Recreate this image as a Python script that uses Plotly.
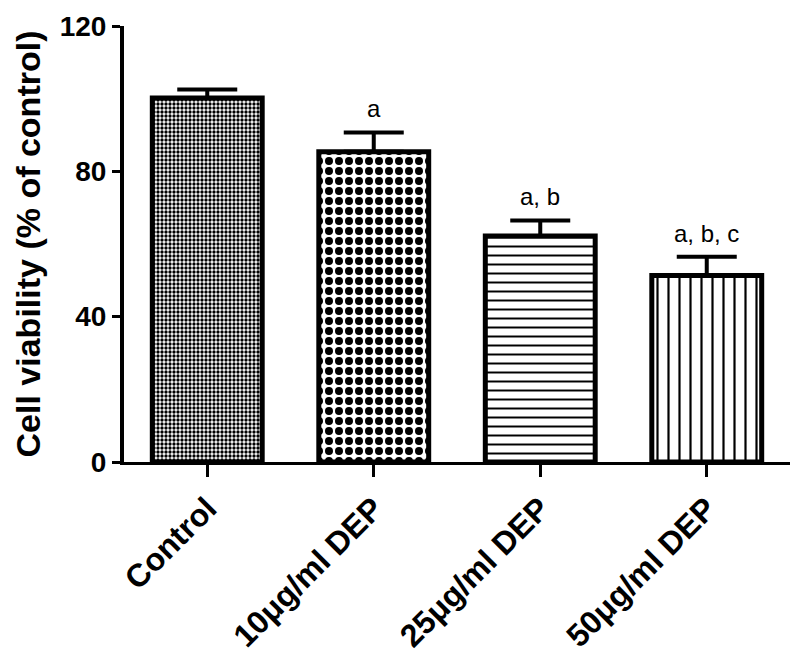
import plotly.graph_objects as go

categories = ["Control", "10μg/ml DEP", "25μg/ml DEP", "50μg/ml DEP"]
means = [100.2, 85.4, 62.2, 51.3]
sems = [2.3, 5.3, 4.3, 5.2]
labels = ["", "a", "a, b", "a, b, c"]
y_ticks = [0, 40, 80, 120]

FONT = "Liberation Sans, Arial, sans-serif"

fig = go.Figure()
fig.add_trace(go.Bar(
    x=categories,
    y=means,
    width=0.66,
    marker=dict(
        color="white",
        line=dict(color="black", width=5),
        pattern=dict(
            shape=[".", ".", "-", "|"],
            size=[4, 10, 9, 11],
            solidity=[0.55, 0.5, 0.22, 0.2],
            fgcolor="black",
            bgcolor="white",
            fgopacity=1,
            fillmode="overlay",
        ),
    ),
    error_y=dict(
        type="data", symmetric=False, array=sems,
        arrayminus=[0] * len(sems),
        color="black", thickness=4, width=30,
    ),
    showlegend=False,
))

for c, m, s, t in zip(categories, means, sems, labels):
    if t:
        fig.add_annotation(
            x=c, y=m + s, text=t, showarrow=False,
            yanchor="bottom", yshift=8,
            font=dict(family=FONT, size=24, color="black"),
        )

fig.update_layout(
    width=800, height=660,
    margin=dict(l=116, r=18, t=18, b=206),
    plot_bgcolor="white", paper_bgcolor="white",
    font=dict(family=FONT, color="black"),
)
fig.update_xaxes(
    range=[-0.5, 3.5],
    automargin=False,
    showline=True, linecolor="black", linewidth=3,
    ticks="outside", ticklen=12, tickwidth=3, tickcolor="black",
    tickangle=-45,
    ticklabelstandoff=0,
    tickfont=dict(family=FONT, size=32, color="black", weight="bold"),
    showgrid=False, zeroline=False,
)
fig.update_yaxes(
    range=[0, 120],
    automargin=False,
    tickvals=y_ticks,
    ticklabeloverflow="allow",
    showline=True, linecolor="black", linewidth=4,
    ticks="outside", ticklen=8, tickwidth=3, tickcolor="black",
    tickfont=dict(family=FONT, size=28, color="black", weight="bold"),
    title=dict(text="Cell viability (% of control)",
               font=dict(family=FONT, size=34, color="black", weight="bold"),
               standoff=10),
    showgrid=False, zeroline=False,
)

fig.write_html("out.html")
